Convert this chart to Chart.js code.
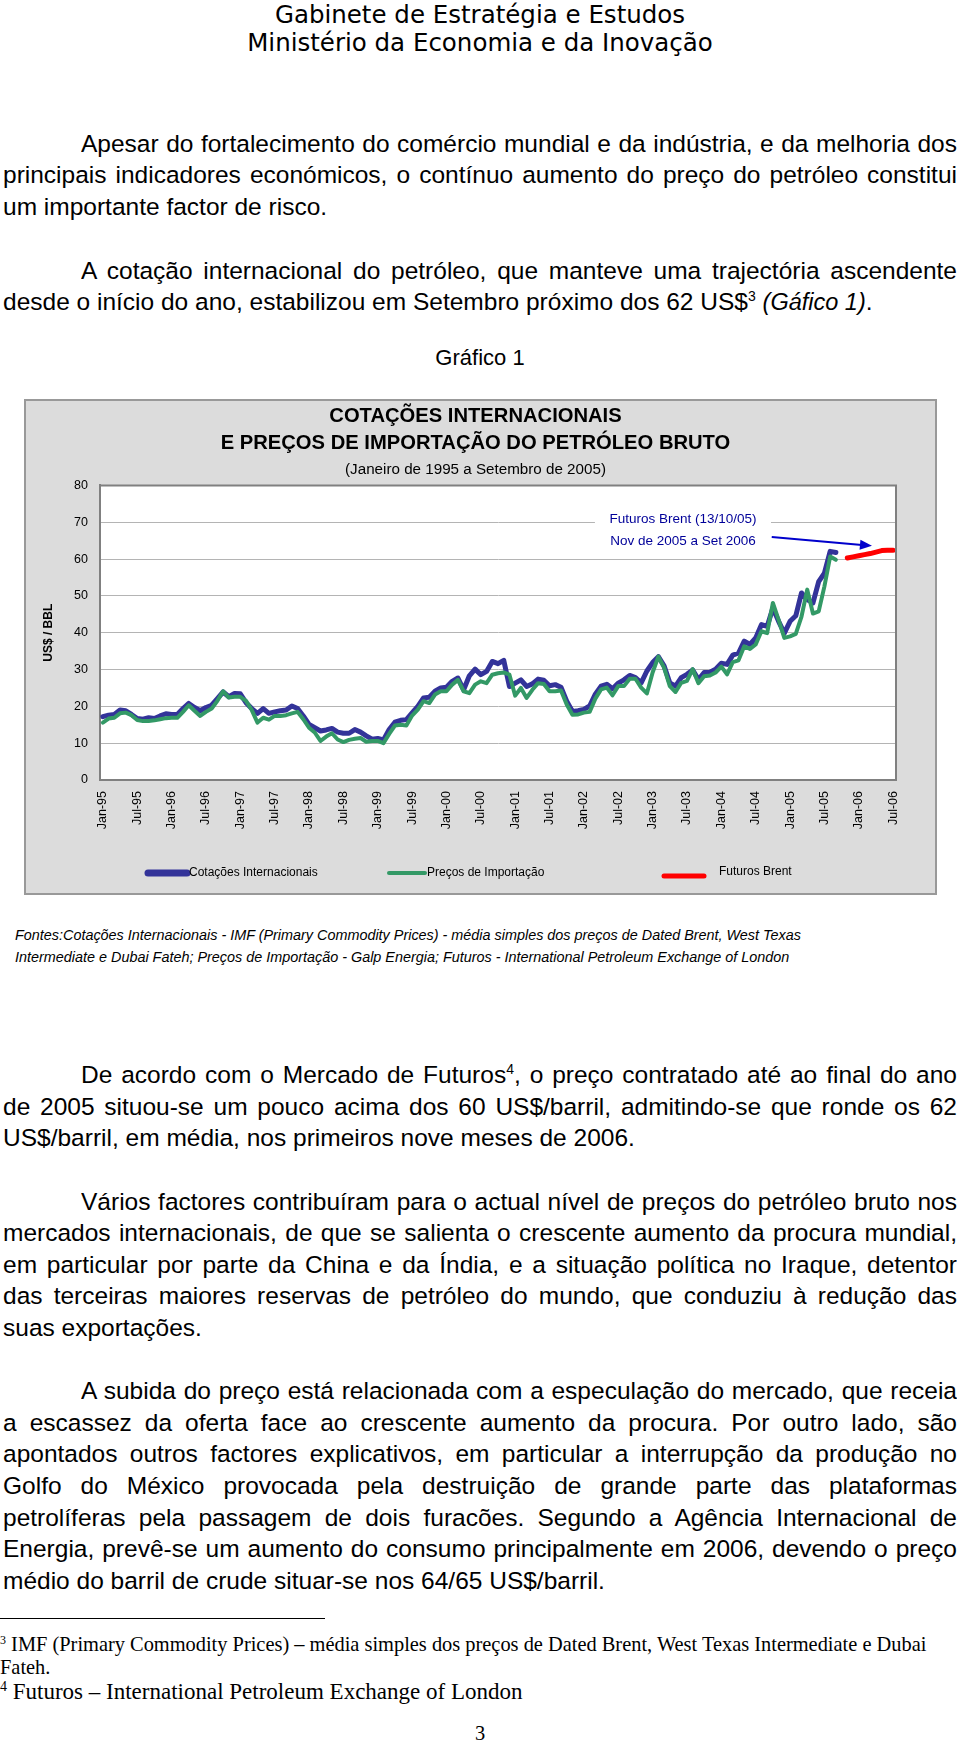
<!DOCTYPE html>
<html lang="pt">
<head>
<meta charset="utf-8">
<title>Gráfico 1 - Cotações internacionais do petróleo</title>
<script src="https://cdn.jsdelivr.net/npm/chart.js@4.4.0/dist/chart.umd.min.js"></script>
<style>
  body { margin: 0; background: #fff; }
  #page { position: relative; width: 960px; height: 1743px; overflow: hidden;
          font-family: "Liberation Sans", Arial, sans-serif; color: #000; }
  .hd { position: absolute; left: 0; width: 960px; text-align: center;
        font-family: "DejaVu Sans", sans-serif; font-size: 24.5px; line-height: 28px; }
  .p { position: absolute; left: 3px; width: 954px; height: 32px; font-size: 24.5px;
       line-height: 32px; white-space: nowrap; }
  .j { white-space: normal; text-align: justify; text-align-last: justify; overflow: hidden; hyphens: none; }
  .in { left: 81px; width: 876px; }
  .sup { position: relative; top: -9px; font-size: 14px; }
  .fonte { position: absolute; left: 15px; font-size: 14.4px; font-style: italic;
           line-height: 20px; white-space: nowrap; }
  .nota { position: absolute; left: 0; font-family: "Liberation Serif", "Times New Roman", serif;
          font-size: 20.4px; line-height: 24px; white-space: nowrap; }
  .nota .s { position: relative; top: -7px; font-size: 12px; }
  #box { position: absolute; left: 24px; top: 399px; width: 913px; height: 496px;
         box-sizing: border-box; border: 2px solid #999; background: #dcdcdc; }
  #grafico { display: block; }
</style>
</head>
<body>
<div id="page">
  <div class="hd" style="top:1px">Gabinete de Estratégia e Estudos</div>
  <div class="hd" style="top:29px">Ministério da Economia e da Inovação</div>

  <div class="p j in" style="top:128px">Apesar do fortalecimento do comércio mundial e da indústria, e da melhoria dos</div>
  <div class="p j" style="top:159px">principais indicadores económicos, o contínuo aumento do preço do petróleo constitui</div>
  <div class="p" style="top:191px">um importante factor de risco.</div>

  <div class="p j in" style="top:255px">A cotação internacional do petróleo, que manteve uma trajectória ascendente</div>
  <div class="p" style="top:286px">desde o início do ano, estabilizou em Setembro próximo dos 62 US$<span class="sup">3</span> <i style="font-size:23.5px">(Gáfico 1)</i>.</div>

  <div class="p" style="top:342px;left:0;width:960px;text-align:center;font-size:22px">Gráfico 1</div>

  <div id="box"><canvas id="grafico" width="909" height="492"></canvas></div>

  <div class="fonte" style="top:925px">Fontes:Cotações Internacionais - IMF (Primary Commodity Prices) - média simples dos preços de Dated Brent, West Texas</div>
  <div class="fonte" style="top:947px">Intermediate e Dubai Fateh; Preços de Importação - Galp Energia; Futuros - International Petroleum Exchange of London</div>

  <div class="p j in" style="top:1059px">De acordo com o Mercado de Futuros<span class="sup">4</span>, o preço contratado até ao final do ano</div>
  <div class="p j" style="top:1091px">de 2005 situou-se um pouco acima dos 60 US$/barril, admitindo-se que ronde os 62</div>
  <div class="p" style="top:1122px">US$/barril, em média, nos primeiros nove meses de 2006.</div>

  <div class="p j in" style="top:1186px">Vários factores contribuíram para o actual nível de preços do petróleo bruto nos</div>
  <div class="p j" style="top:1217px">mercados internacionais, de que se salienta o crescente aumento da procura mundial,</div>
  <div class="p j" style="top:1249px">em particular por parte da China e da Índia, e a situação política no Iraque, detentor</div>
  <div class="p j" style="top:1280px">das terceiras maiores reservas de petróleo do mundo, que conduziu à redução das</div>
  <div class="p" style="top:1312px">suas exportações.</div>

  <div class="p j in" style="top:1375px">A subida do preço está relacionada com a especulação do mercado, que receia</div>
  <div class="p j" style="top:1407px">a escassez da oferta face ao crescente aumento da procura. Por outro lado, são</div>
  <div class="p j" style="top:1438px">apontados outros factores explicativos, em particular a interrupção da produção no</div>
  <div class="p j" style="top:1470px">Golfo do México provocada pela destruição de grande parte das plataformas</div>
  <div class="p j" style="top:1502px">petrolíferas pela passagem de dois furacões. Segundo a Agência Internacional de</div>
  <div class="p j" style="top:1533px">Energia, prevê-se um aumento do consumo principalmente em 2006, devendo o preço</div>
  <div class="p" style="top:1565px">médio do barril de crude situar-se nos 64/65 US$/barril.</div>

  <div style="position:absolute;left:0;top:1618px;width:325px;height:1px;background:#000"></div>
  <div class="nota" style="top:1632px"><span class="s">3</span> IMF (Primary Commodity Prices) – média simples dos preços de Dated Brent, West Texas Intermediate e Dubai</div>
  <div class="nota" style="top:1655px">Fateh.</div>
  <div class="nota" style="top:1679px;font-size:23px;line-height:26px"><span class="s" style="font-size:14px;top:-8px">4</span> Futuros – International Petroleum Exchange of London</div>
  <div class="nota" style="top:1721px;width:960px;text-align:center">3</div>
</div>

<script>
const FONTE = '"Liberation Sans", Arial, sans-serif';
Chart.defaults.font.family = FONTE;
Chart.defaults.color = '#000';

// eixo: Jan-95 a Jul-06
const meses = ['Jan', 'Feb', 'Mar', 'Apr', 'May', 'Jun', 'Jul', 'Aug', 'Sep', 'Oct', 'Nov', 'Dec'];
const anos = ['95', '96', '97', '98', '99', '00', '01', '02', '03', '04', '05', '06'];
const categorias = [];
anos.forEach(a => meses.forEach(m => categorias.push(m + '-' + a)));
categorias.length = 139;

// Cotações Internacionais (US$/BBL), Jan-95 a Sep-05
const cotacoes = [
  17.2, 17.6, 17.8, 19.0, 18.8, 17.8, 16.7, 16.5, 16.9, 16.7, 17.4, 18.0,
  17.8, 17.8, 19.4, 20.8, 19.7, 18.8, 19.7, 20.3, 22.1, 23.9, 22.6, 23.5,
  23.4, 21.0, 19.4, 18.1, 19.4, 18.1, 18.5, 18.8, 19.0, 20.1, 19.4, 17.4,
  15.1, 14.2, 13.3, 13.6, 14.0, 13.0, 12.7, 12.7, 13.7, 13.0, 12.0, 11.1,
  11.3, 10.9, 13.7, 15.7, 16.2, 16.4, 18.2, 20.0, 22.3, 22.5, 24.1, 25.0,
  25.2, 26.8, 27.7, 24.5, 28.3, 30.1, 28.6, 29.5, 32.2, 31.6, 32.5, 25.4,
  26.3, 27.2, 25.4, 26.1, 27.4, 27.1, 25.6, 25.9, 25.2, 21.4, 18.6, 18.8,
  19.2, 20.1, 23.3, 25.5, 26.0, 24.8, 26.3, 27.2, 28.4, 27.8, 26.4, 29.6,
  31.9, 33.5, 31.0, 26.4, 25.5, 27.8, 28.7, 29.9, 27.3, 29.2, 29.3, 30.1,
  31.7, 31.4, 33.9, 34.5, 37.7, 36.8, 38.6, 42.2, 41.7, 46.7, 43.1, 39.9,
  43.1, 44.6, 50.8, 49.0, 48.1, 53.9, 56.2, 62.1, 61.8
];

// Preços de Importação (US$/BBL), Jan-95 a Sep-05
const precos = [
  15.6, 16.7, 16.9, 18.1, 18.3, 17.6, 16.3, 16.0, 16.0, 16.2, 16.5, 16.8,
  16.9, 16.9, 18.5, 20.3, 18.8, 17.4, 18.5, 19.4, 21.5, 24.1, 22.4, 22.6,
  22.6, 21.5, 19.0, 15.6, 16.9, 16.4, 17.4, 17.4, 17.6, 18.1, 18.5, 16.5,
  14.2, 12.9, 10.6, 11.8, 12.7, 11.0, 10.3, 10.9, 11.2, 11.4, 10.4, 10.6,
  10.6, 10.0, 12.5, 14.8, 15.0, 14.8, 17.5, 19.1, 21.4, 20.9, 23.2, 24.1,
  24.1, 25.9, 27.2, 24.1, 23.6, 25.9, 26.8, 26.3, 28.6, 29.0, 29.2, 28.6,
  22.9, 25.0, 22.3, 24.5, 26.3, 26.1, 24.1, 24.1, 24.3, 20.5, 17.7, 17.8,
  18.3, 18.5, 22.1, 24.6, 25.1, 23.0, 25.5, 25.5, 27.5, 27.5, 25.1, 23.5,
  29.2, 33.5, 30.5, 25.5, 23.9, 26.4, 26.9, 30.1, 26.3, 28.2, 28.4, 29.2,
  30.8, 28.7, 32.0, 32.5, 36.3, 35.6, 36.8, 40.4, 39.9, 48.1, 43.5, 38.6,
  39.0, 39.7, 44.4, 51.7, 45.2, 45.8, 52.6, 60.7, 59.8
];

// Futuros Brent (13/10/05)
const futurosMeses = ['Nov-05', 'Dec-05', 'Jan-06', 'Feb-06', 'Mar-06', 'Apr-06', 'May-06', 'Jun-06', 'Jul-06'];
const futurosValores = [60.3, 60.6, 60.9, 61.2, 61.5, 61.9, 62.3, 62.4, 62.4];
const futuros = categorias.map(c => {
  const k = futurosMeses.indexOf(c);
  return k < 0 ? null : futurosValores[k];
});

const titulo = ['COTAÇÕES INTERNACIONAIS', 'E PREÇOS DE IMPORTAÇÃO DO PETRÓLEO BRUTO'];
const subtitulo = '(Janeiro de 1995 a Setembro de 2005)';
const nota = ['Futuros Brent (13/10/05)', 'Nov de 2005 a Set 2006'];

// fundo branco da área do gráfico + moldura de cima e da direita
const fundo = {
  id: 'fundo',
  beforeDraw(chart) {
    const {ctx, chartArea: a} = chart;
    ctx.save();
    ctx.fillStyle = '#fff';
    ctx.fillRect(a.left, a.top, a.width, a.height);
    ctx.restore();
  },
  afterDraw(chart) {
    const {ctx, chartArea: a} = chart;
    ctx.save();
    ctx.strokeStyle = '#808080';
    ctx.lineWidth = 2;
    ctx.beginPath();
    ctx.moveTo(a.left, a.top);
    ctx.lineTo(a.right, a.top);
    ctx.lineTo(a.right, a.bottom);
    ctx.stroke();
    ctx.restore();
  }
};

// texto "Futuros Brent" e seta azul
const anotacao = {
  id: 'anotacao',
  beforeDatasetsDraw(chart) {
    const {ctx, scales: {x, y}} = chart;
    ctx.save();
    ctx.font = '13.5px ' + FONTE;
    ctx.textAlign = 'center';
    ctx.textBaseline = 'middle';
    const cx = x.getPixelForValue(101.3);
    const y1 = y.getPixelForValue(70.7);
    const y2 = y.getPixelForValue(64.9);
    const w = ctx.measureText(nota[0]).width + 29;
    ctx.fillStyle = '#fff';
    ctx.fillRect(cx - w / 2, y1 - 9, w, y2 - y1 + 18);
    ctx.fillStyle = '#000099';
    ctx.fillText(nota[0], cx, y1);
    ctx.fillText(nota[1], cx, y2);

    const x0 = x.getPixelForValue(116.8), yA = y.getPixelForValue(66.0);
    const x1 = x.getPixelForValue(134.3), yB = y.getPixelForValue(63.6);
    const ang = Math.atan2(yB - yA, x1 - x0);
    ctx.strokeStyle = '#0000cc';
    ctx.fillStyle = '#0000cc';
    ctx.lineWidth = 2;
    ctx.beginPath();
    ctx.moveTo(x0, yA);
    ctx.lineTo(x1 - 10 * Math.cos(ang), yB - 10 * Math.sin(ang));
    ctx.stroke();
    ctx.beginPath();
    ctx.moveTo(x1, yB);
    ctx.lineTo(x1 - 12 * Math.cos(ang) + 5 * Math.sin(ang), yB - 12 * Math.sin(ang) - 5 * Math.cos(ang));
    ctx.lineTo(x1 - 12 * Math.cos(ang) - 5 * Math.sin(ang), yB - 12 * Math.sin(ang) + 5 * Math.cos(ang));
    ctx.closePath();
    ctx.fill();
    ctx.restore();
  }
};

// legenda em baixo, como no original (posições no canvas)
const legendaPos = [
  {x: 122, w: 39, y: 472, tx: 163, ty: 472, lw: 7},
  {x: 363, w: 36, y: 472, tx: 401, ty: 472, lw: 4},
  {x: 638, w: 40, y: 475, tx: 693, ty: 471, lw: 5}
];
const legenda = {
  id: 'legenda',
  afterDraw(chart) {
    const ctx = chart.ctx;
    ctx.save();
    ctx.font = '12px ' + FONTE;
    ctx.textBaseline = 'middle';
    ctx.lineCap = 'round';
    chart.data.datasets.forEach((ds, i) => {
      const p = legendaPos[i];
      ctx.strokeStyle = ds.borderColor;
      ctx.lineWidth = p.lw;
      ctx.beginPath();
      ctx.moveTo(p.x, p.y);
      ctx.lineTo(p.x + p.w, p.y);
      ctx.stroke();
      ctx.fillStyle = '#000';
      ctx.fillText(ds.label, p.tx, p.ty);
    });
    ctx.restore();
  }
};

new Chart(document.getElementById('grafico'), {
  type: 'line',
  data: {
    labels: categorias,
    datasets: [
      {label: 'Cotações Internacionais', data: cotacoes, borderColor: '#333399', borderWidth: 5, order: 2},
      {label: 'Preços de Importação', data: precos, borderColor: '#339966', borderWidth: 4, order: 1},
      {label: 'Futuros Brent', data: futuros, borderColor: '#ff0000', borderWidth: 5, order: 0}
    ]
  },
  options: {
    responsive: false,
    animation: false,
    devicePixelRatio: 1,
    layout: {padding: {left: 0, right: 10, top: 0, bottom: 53}},
    elements: {
      point: {radius: 0},
      line: {tension: 0, fill: false, borderCapStyle: 'round', borderJoinStyle: 'round'}
    },
    plugins: {
      legend: {display: false},
      tooltip: {enabled: false},
      title: {
        display: true, text: titulo, color: '#000',
        font: {size: 20.2, weight: 'bold', lineHeight: 1.317},
        padding: {top: 2.4, bottom: 3.6}
      },
      subtitle: {
        display: true, text: subtitulo, color: '#000',
        font: {size: 15.2, lineHeight: 1.2},
        padding: {top: 0, bottom: 7}
      }
    },
    scales: {
      x: {
        offset: true,
        grid: {display: false, drawTicks: false},
        border: {display: true, color: '#808080', width: 2},
        ticks: {
          autoSkip: false, minRotation: 90, maxRotation: 90, padding: 11,
          font: {size: 12.5},
          callback(v, i) { return i % 6 === 0 ? this.getLabelForValue(v) : ''; }
        },
        afterFit(s) { s.height = 60; }
      },
      y: {
        min: 0, max: 80,
        grid: {color: '#b4b4b4', lineWidth: 1, drawTicks: false},
        border: {color: '#808080', width: 2},
        ticks: {stepSize: 10, padding: 12, font: {size: 12.5}},
        title: {display: true, text: 'US$ / BBL', font: {size: 12, weight: 'bold'}, padding: {top: 15, bottom: 0}},
        afterFit(s) { s.width = 74; }
      },
      direita: {
        position: 'right',
        grid: {display: false, drawTicks: false},
        border: {display: false},
        ticks: {display: false},
        afterFit(s) { s.width = 29; }
      }
    }
  },
  plugins: [fundo, anotacao, legenda]
});
</script>
</body>
</html>
